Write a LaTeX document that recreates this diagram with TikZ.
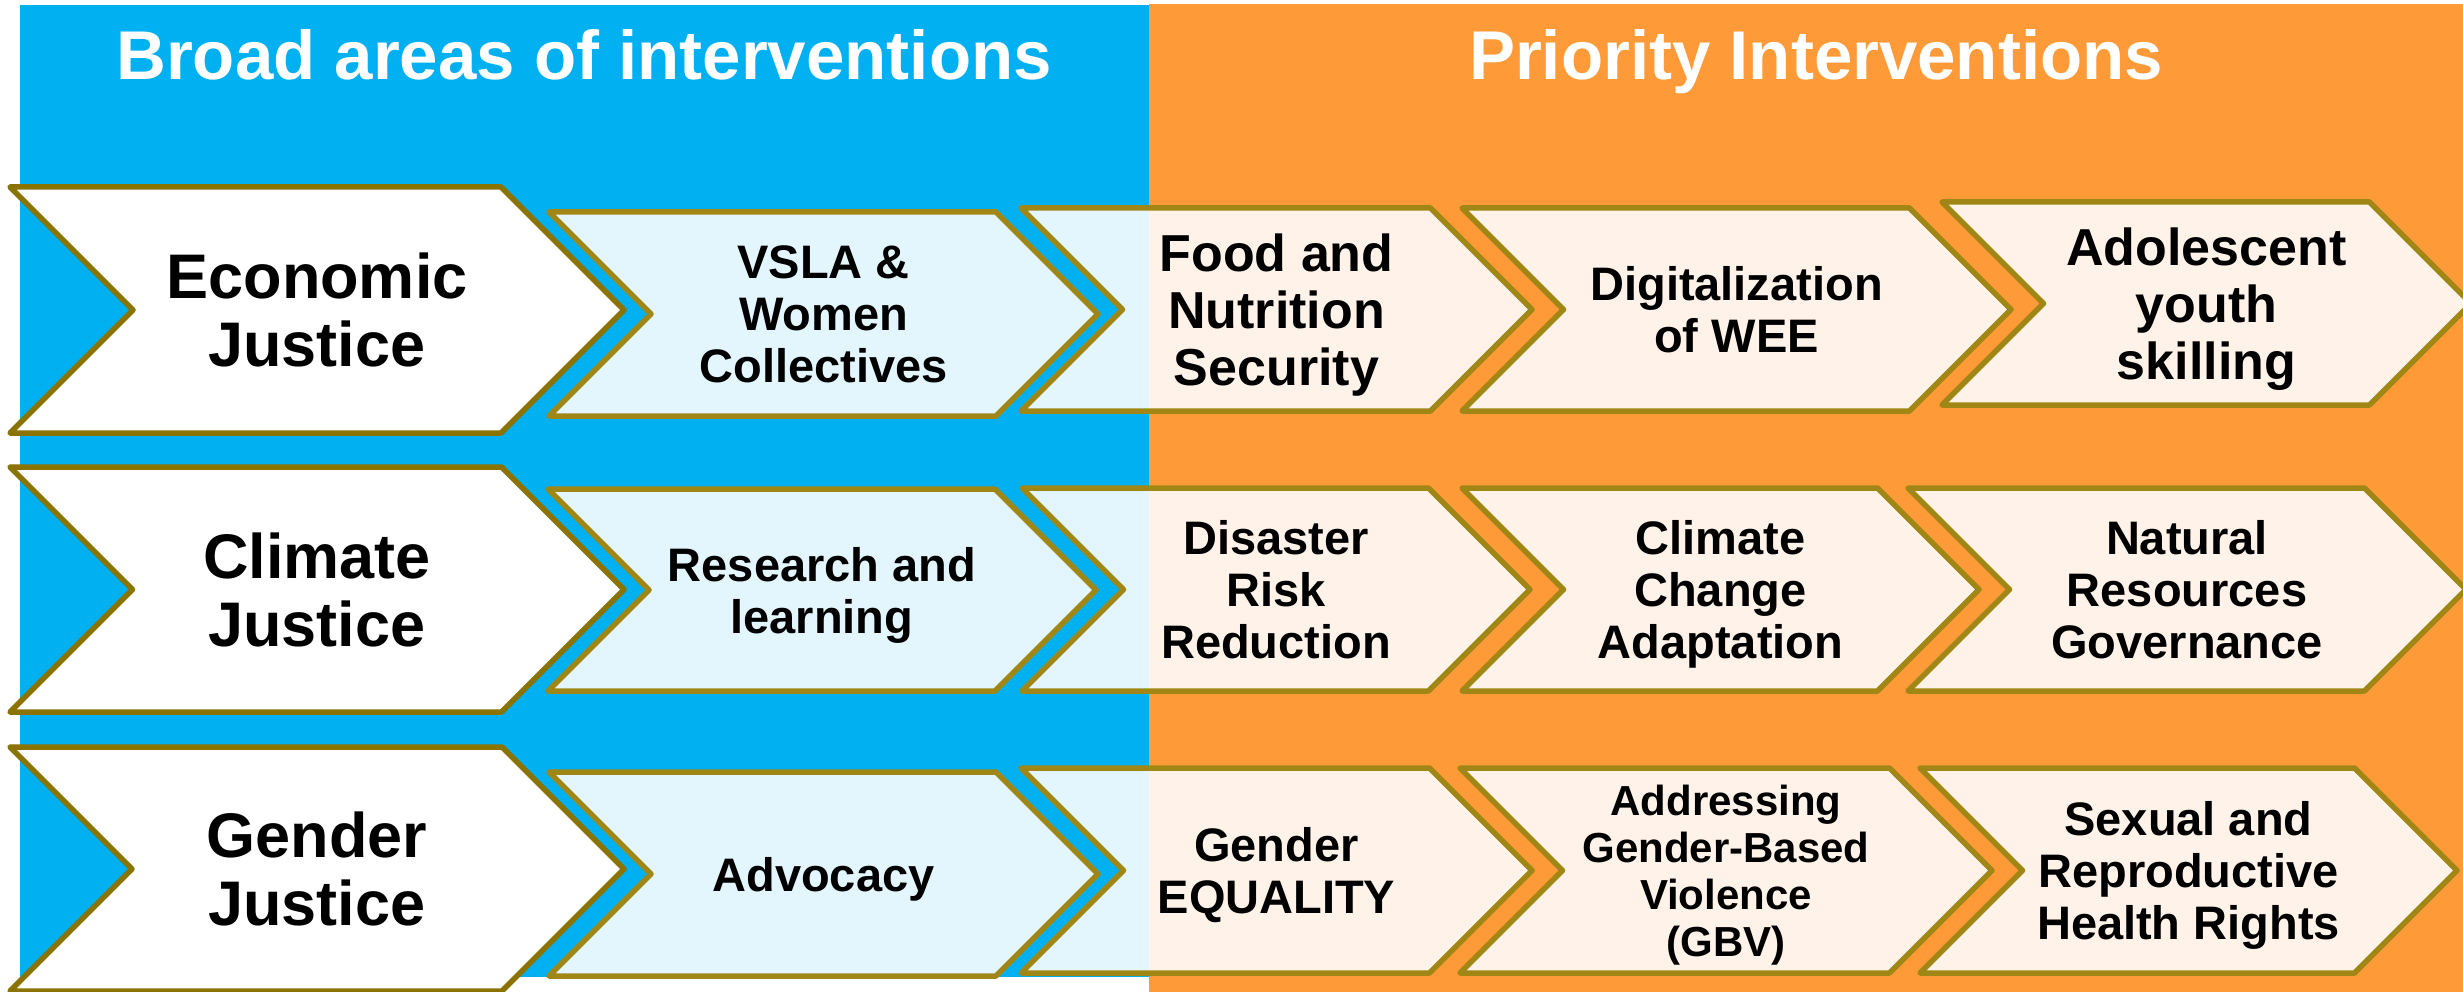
\documentclass[tikz,border=0pt]{standalone}
\usepackage{fontspec}
\setmainfont{Liberation Sans}

\definecolor{panelblue}{HTML}{00B0F0}
\definecolor{panelorange}{HTML}{FF9A38}
\definecolor{rimdark}{HTML}{8B7300}
\definecolor{rimlight}{HTML}{A08614}

% chevron with 45-degree sides and a centred label
% #1 path style, #2 label name, #3 left x, #4 tip x, #5 top y, #6 bottom y, #7 label style, #8 label
\newcommand\chevronbox[8]{%
  \path[#1] (#3,#5) -- ({#4-(#6-#5)/2},#5) -- (#4,{(#5+#6)/2})
    -- ({#4-(#6-#5)/2},#6) -- (#3,#6) -- ({#3+(#6-#5)/2},{(#5+#6)/2}) -- cycle;
  \node[#7] (#2) at ({(#3+#4)/2},{(#5+#6)/2}) {#8};
}

\begin{document}
\begin{tikzpicture}[x=1pt,y=-1pt,
  areachev/.style={fill=white, draw=rimdark, line width=5.5pt, line join=round},
  itemchev/.style={fill=white, fill opacity=0.89, draw=rimlight, draw opacity=1,
                   line width=5.5pt, line join=round},
  headtxt/.style={font=\fontsize{69}{80}\selectfont\bfseries, text=white, inner sep=0pt, anchor=base},
  areatxt/.style={font=\fontsize{63}{68}\selectfont\bfseries, align=center, inner sep=0pt, text depth=0pt},
  itemtxt/.style={font=\fontsize{47}{52}\selectfont\bfseries, align=center, inner sep=0pt, text depth=0pt},
  largetxt/.style={font=\fontsize{52}{57}\selectfont\bfseries, align=center, inner sep=0pt, text depth=0pt},
  smalltxt/.style={font=\fontsize{42}{47}\selectfont\bfseries, align=center, inner sep=0pt, text depth=0pt}]

\useasboundingbox (0,0) rectangle (2463,992);
\clip (0,0) rectangle (2463,992);
\fill[white] (0,0) rectangle (2463,992);

% two background panels
\fill[panelblue] (20,5) rectangle (1149,977);
\fill[panelorange] (1149,4) rectangle (2463,992);

% panel headings
\node[headtxt] (headbroad) at (584,80) {Broad areas of interventions};
\node[headtxt] (headprio) at (1816,80) {Priority Interventions};

% row 1: economic justice
\chevronbox{areachev}{econ}{10}{624}{187}{433}{areatxt}{Economic\\Justice}
\chevronbox{itemchev}{vsla}{549}{1098}{212}{416}{itemtxt}{VSLA \&\\Women\\Collectives}
\chevronbox{itemchev}{food}{1021}{1532}{208}{411}{largetxt}{Food and\\Nutrition\\Security}
\chevronbox{itemchev}{digital}{1462}{2011}{208}{411}{itemtxt}{Digitalization\\of WEE}
\chevronbox{itemchev}{youth}{1942}{2471}{202}{405}{largetxt}{Adolescent\\youth\\skilling}

% row 2: climate justice
\chevronbox{areachev}{climate}{10}{624}{467}{712}{areatxt}{Climate\\Justice}
\chevronbox{itemchev}{research}{548}{1096}{489}{691}{itemtxt}{Research and\\learning}
\chevronbox{itemchev}{disaster}{1022}{1530}{488}{691}{itemtxt}{Disaster\\Risk\\Reduction}
\chevronbox{itemchev}{adapt}{1462}{1979}{488}{691}{itemtxt}{Climate\\Change\\Adaptation}
\chevronbox{itemchev}{natural}{1908}{2466}{488}{691}{itemtxt}{Natural\\Resources\\Governance}

% row 3: gender justice
\chevronbox{areachev}{gender}{10}{624}{747}{991}{areatxt}{Gender\\Justice}
\chevronbox{itemchev}{advocacy}{549}{1098}{772}{976}{itemtxt}{Advocacy}
\chevronbox{itemchev}{equality}{1021}{1532}{768}{973}{itemtxt}{Gender\\EQUALITY}
\chevronbox{itemchev}{gbv}{1460}{1992}{768}{973}{smalltxt}{Addressing\\Gender-Based\\Violence\\(GBV)}
\chevronbox{itemchev}{srhr}{1920}{2457}{768}{973}{itemtxt}{Sexual and\\Reproductive\\Health Rights}

\end{tikzpicture}
\end{document}
